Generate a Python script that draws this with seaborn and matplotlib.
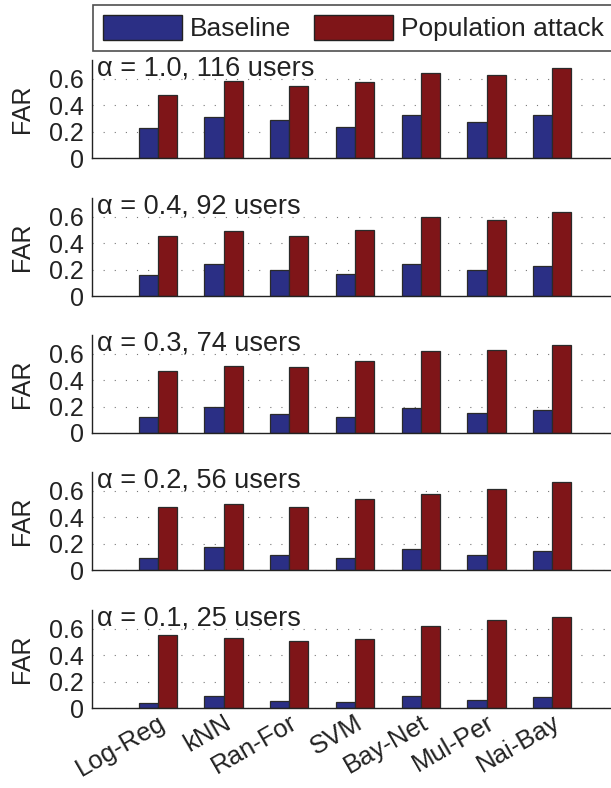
import numpy as np
import pandas as pd
import matplotlib
matplotlib.use("Agg")
import matplotlib.pyplot as plt
import seaborn as sns
from matplotlib.patches import Patch

classifiers = ["Log-Reg", "kNN", "Ran-For", "SVM", "Bay-Net", "Mul-Per", "Nai-Bay"]
series_names = ["Baseline", "Population attack"]
panel_titles = ["α = 1.0, 116 users", "α = 0.4, 92 users", "α = 0.3, 74 users",
                "α = 0.2, 56 users", "α = 0.1, 25 users"]

baseline_a10 = [0.227, 0.31, 0.285, 0.232, 0.323, 0.275, 0.328]
attack_a10 = [0.479, 0.58, 0.54, 0.572, 0.64, 0.63, 0.68]
baseline_a04 = [0.157, 0.243, 0.197, 0.167, 0.238, 0.197, 0.223]
attack_a04 = [0.453, 0.491, 0.451, 0.501, 0.60, 0.577, 0.633]
baseline_a03 = [0.122, 0.195, 0.144, 0.122, 0.192, 0.149, 0.17]
attack_a03 = [0.466, 0.506, 0.496, 0.547, 0.62, 0.628, 0.666]
baseline_a02 = [0.09, 0.171, 0.116, 0.09, 0.161, 0.116, 0.143]
attack_a02 = [0.475, 0.497, 0.475, 0.535, 0.575, 0.61, 0.668]
baseline_a01 = [0.036, 0.094, 0.053, 0.046, 0.089, 0.064, 0.081]
attack_a01 = [0.552, 0.532, 0.509, 0.519, 0.621, 0.664, 0.684]

panels = [(baseline_a10, attack_a10), (baseline_a04, attack_a04), (baseline_a03, attack_a03),
          (baseline_a02, attack_a02), (baseline_a01, attack_a01)]

yticks = [0, 0.2, 0.4, 0.6]
ytick_labels = ["0", "0.2", "0.4", "0.6"]

colors = ["#2b2f85", "#7f1518"]

sns.set_theme(style="white")
plt.rcParams["font.family"] = ["Liberation Sans", "DejaVu Sans"]

W, H = 611, 788
fig = plt.figure(figsize=(W / 100, H / 100), dpi=100)

zero_px = [158, 296, 433, 570, 708]
ax_h = 98
left_px, right_px = 92, 618
FS = 18

axes = []
for i, (b, a) in enumerate(panels):
    y0 = zero_px[i]
    ax = fig.add_axes([left_px / W, (H - y0) / H, (right_px - left_px) / W, ax_h / H])
    df = pd.DataFrame({
        "classifier": classifiers * 2,
        "series": [series_names[0]] * 7 + [series_names[1]] * 7,
        "FAR": list(b) + list(a),
    })
    sns.barplot(data=df, x="classifier", y="FAR", hue="series", order=classifiers,
                hue_order=series_names, palette=colors, saturation=1, width=0.58, gap=0,
                edgecolor="#2a2a2a", linewidth=0.9, legend=False, ax=ax, errorbar=None)
    ax.set_xlim(-1, 7)
    ax.set_ylim(0, 0.74)
    ax.set_yticks(yticks)
    ax.set_yticklabels(ytick_labels, fontsize=FS)
    ax.yaxis.grid(True, linestyle=(0, (1, 9)), color="#777777", linewidth=0.8)
    ax.xaxis.grid(False)
    ax.set_axisbelow(True)
    for s in ["top", "right"]:
        ax.spines[s].set_visible(False)
    for s in ["left", "bottom"]:
        ax.spines[s].set_color("#222222")
        ax.spines[s].set_linewidth(1.0)
    ax.tick_params(axis="y", direction="in", length=4, width=0.8, pad=6, colors="#222222",
                   labelcolor="#222222")
    ax.tick_params(axis="x", length=0)
    ax.set_ylabel("FAR", fontsize=FS, color="#222222", labelpad=11)
    ax.set_xlabel("")
    ax.text(0.009, 0.62, panel_titles[i], transform=ax.get_yaxis_transform(),
            fontsize=19.5, color="#222222", va="baseline", ha="left")
    if i < 4:
        ax.set_xticklabels([])
    else:
        ax.set_xticks(range(7))
        ax.set_xticklabels(classifiers, rotation=30, ha="right", va="top",
                           rotation_mode="anchor", fontsize=18.5, color="#222222")
        ax.tick_params(axis="x", pad=2)
    axes.append(ax)

handles = [Patch(facecolor=colors[0], edgecolor="#222222", linewidth=1.0),
           Patch(facecolor=colors[1], edgecolor="#222222", linewidth=1.0)]
leg = fig.legend(handles, series_names, loc="upper left",
                 bbox_to_anchor=(93 / W, 1 - 5 / H), ncol=2, fontsize=19,
                 frameon=True, fancybox=False, handlelength=3.0, handleheight=1.05,
                 handletextpad=0.3, columnspacing=0.85, borderpad=0.38,
                 borderaxespad=0)
leg.get_frame().set_edgecolor("#222222")
leg.get_frame().set_linewidth(1.2)
for t in leg.get_texts():
    t.set_color("#222222")

fig.savefig("out.png", dpi=100)
